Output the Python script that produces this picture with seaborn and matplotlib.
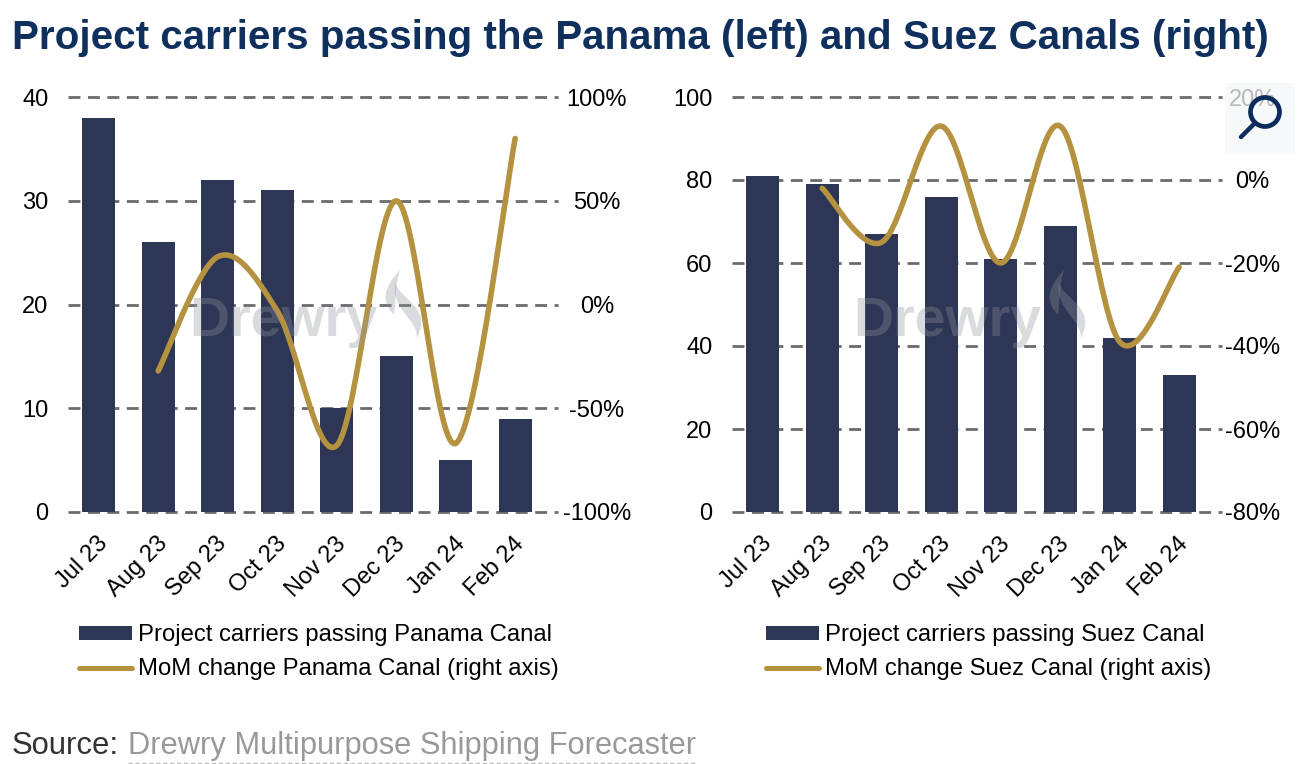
import numpy as np
import pandas as pd
import matplotlib.pyplot as plt
import seaborn as sns
from matplotlib.lines import Line2D
from matplotlib.patches import Patch, PathPatch, Circle, Rectangle
from matplotlib.path import Path
from matplotlib.transforms import ScaledTranslation

W, H = 1306, 764

months = ["Jul 23", "Aug 23", "Sep 23", "Oct 23", "Nov 23", "Dec 23", "Jan 24", "Feb 24"]
panama_carriers = [38, 26, 32, 31, 10, 15, 5, 9]
panama_mom = [-32, 23, -3, -68, 50, -67, 80]
suez_carriers = [81, 79, 67, 76, 61, 69, 42, 33]
suez_mom = [-2, -15, 13, -20, 13, -39, -21]

NAVY = "#2d3654"
GOLD = "#b5923f"
GRID = "#6b6b6b"
MARK = "#8f949c"


def fx(x):
    return x / W


def fy(y):
    return 1 - y / H


def smooth(xs, ys, steps=30):
    # Catmull-Rom curve through the monthly values, like a smoothed office chart line
    xs = np.array(xs, dtype=float)
    ys = np.array(ys, dtype=float)
    out_x, out_y = [], []
    for i in range(len(xs) - 1):
        i0, i3 = max(i - 1, 0), min(i + 2, len(xs) - 1)
        for s in np.linspace(0, 1, steps, endpoint=False):
            for vals, out in ((xs, out_x), (ys, out_y)):
                p0, p1, p2, p3 = vals[i0], vals[i], vals[i + 1], vals[i3]
                out.append(0.5 * (2 * p1 + (p2 - p0) * s
                                  + (2 * p0 - 5 * p1 + 4 * p2 - p3) * s ** 2
                                  + (3 * p1 - p0 - 3 * p2 + p3) * s ** 3))
    out_x.append(xs[-1])
    out_y.append(ys[-1])
    return out_x, out_y


def flame(fig, x0):
    # Drewry logo swooshes next to the watermark text
    for pts in (
        [(25, 10), (8, 28), (6, 42), (19, 55), (21, 40), (20, 25), (25, 10)],
        [(20, 22), (24, 40), (58, 46), (42, 78), (42, 58), (16, 50), (20, 22)],
    ):
        verts = [(fx(x0 + px), fy(260 + py)) for px, py in pts]
        codes = [Path.MOVETO] + [Path.CURVE4] * 6
        fig.add_artist(PathPatch(Path(verts, codes), facecolor=MARK, edgecolor="none",
                                 alpha=0.33, transform=fig.transFigure))


def draw_panel(fig, left, carriers, mom, ymax, yticks, rlim, rticks, pad_r, legend_x, labels):
    width = 490
    ax = fig.add_axes([fx(left), fy(512), width / W, (512 - 97) / H])
    data = pd.DataFrame({"month": months, "carriers": carriers})
    sns.barplot(data=data, x="month", y="carriers", color=NAVY, width=0.55,
                saturation=1, linewidth=0, ax=ax, zorder=2)
    ax.set_xlim(-0.515, 7.72)
    ax.set_ylim(0, ymax)
    ax.set_yticks(yticks)
    ax.set_xlabel("")
    ax.set_ylabel("")
    ax.set_axisbelow(True)
    ax.grid(False)
    ax.yaxis.grid(True, color=GRID, lw=2, ls=(0, (4.3, 2.7)))
    for line in ax.get_ygridlines():
        line.set_clip_on(False)
    ax.set_facecolor("none")
    sns.despine(ax=ax, left=True, bottom=True)
    ax.tick_params(axis="both", length=0, labelsize=17, colors="black")
    ax.tick_params(axis="y", pad=14)
    ax.tick_params(axis="x", pad=15)
    shift = ScaledTranslation(-2 / 100, 0, fig.dpi_scale_trans)
    for tick in ax.get_xticklabels():
        tick.set_rotation(45)
        tick.set_ha("right")
        tick.set_rotation_mode("anchor")
        tick.set_transform(tick.get_transform() + shift)

    ax2 = ax.twinx()
    xs, ys = smooth(range(1, 8), mom)
    line_df = pd.DataFrame({"x": xs, "y": ys})
    sns.lineplot(data=line_df, x="x", y="y", color=GOLD, lw=4, sort=False,
                 estimator=None, ax=ax2, solid_capstyle="round")
    ax2.set_ylim(*rlim)
    ax2.set_yticks(rticks)
    ax2.set_yticklabels([f"{v}%" for v in rticks])
    ax2.set_xlabel("")
    ax2.set_ylabel("")
    ax2.grid(False)
    sns.despine(ax=ax2, left=True, bottom=True, right=True)
    ax2.tick_params(axis="y", length=0, labelsize=17, pad=pad_r, colors="black")
    for tick in ax2.get_yticklabels():
        tick.set_ha("center")

    handles = [
        Patch(facecolor=NAVY, edgecolor="none", label=labels[0]),
        Line2D([0], [0], color=GOLD, lw=3.6, solid_capstyle="round", label=labels[1]),
    ]
    fig.legend(handles=handles, loc="upper left", frameon=False, fontsize=17.2,
               bbox_to_anchor=(fx(legend_x), fy(624.5)), bbox_transform=fig.transFigure,
               borderpad=0, borderaxespad=0,
               handlelength=2.2, handleheight=0.55, handletextpad=0.26, labelspacing=0.5,
               labelcolor="black")

    # watermark
    fig.text(fx(left + 121), fy(336), "Drewry", fontsize=40, fontweight="bold",
             color=MARK, alpha=0.33)
    flame(fig, left + 307)


def main():
    sns.set_theme(style="white")
    plt.rcParams["font.family"] = ["Liberation Sans", "DejaVu Sans"]

    fig = plt.figure(figsize=(W / 100, H / 100), dpi=100, facecolor="white")

    fig.text(fx(12), fy(49), "Project carriers passing the Panama (left) and Suez Canals (right)",
             fontsize=29.1, fontweight="bold", color="#0f2f5c")

    draw_panel(fig, 68, panama_carriers, panama_mom, 40, [0, 10, 20, 30, 40], (-100, 100),
               [-100, -50, 0, 50, 100], 28, 79,
               ["Project carriers passing Panama Canal", "MoM change Panama Canal (right axis)"])
    draw_panel(fig, 732, suez_carriers, suez_mom, 100, [0, 20, 40, 60, 80, 100], (-80, 20),
               [-80, -60, -40, -20, 0, 20], 22, 766,
               ["Project carriers passing Suez Canal", "MoM change Suez Canal (right axis)"])

    fig.text(fx(12), fy(754), "Source:", fontsize=22.3, color="#333333")
    fig.text(fx(128), fy(754), "Drewry Multipurpose Shipping Forecaster", fontsize=22.2, color="#999999")
    fig.add_artist(Line2D([fx(128), fx(697)], [fy(763), fy(763)], color="#bbbbbb", lw=1,
                          ls=(0, (3, 2)), transform=fig.transFigure))

    # magnifier button in the corner
    fig.add_artist(Rectangle((fx(1225), fy(153)), 70 / W, 70 / H, facecolor="#f4f6f9", alpha=0.75,
                             edgecolor="none", transform=fig.transFigure))
    fig.add_artist(Line2D([fx(1241), fx(1255)], [fy(137), fy(123)], color="#0b2c5a", lw=3.2,
                          solid_capstyle="round", transform=fig.transFigure))
    icon = fig.add_axes([fx(1245), fy(132), 40 / W, 40 / H], zorder=5)
    icon.set_xlim(-1, 1)
    icon.set_ylim(-1, 1)
    icon.axis("off")
    icon.add_patch(Circle((0, 0), 0.725, fill=False, edgecolor="#0b2c5a", lw=3.4))

    fig.savefig("out.png", dpi=100)
    plt.close()


if __name__ == "__main__":
    main()
